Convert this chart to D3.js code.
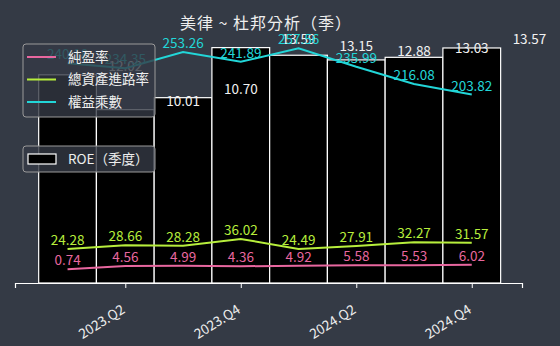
<!DOCTYPE html>
<html>
<head>
<meta charset="utf-8">
<script src="https://cdn.jsdelivr.net/npm/d3@7"></script>
<style>
  body { margin: 0; background: #343a45; }
  text { font-family: "Noto Sans CJK TC", "Noto Sans", sans-serif; }
</style>
</head>
<body>
<script>
// quarters and series
var quarters = ['2023.Q1', '2023.Q2', '2023.Q3', '2023.Q4', '2024.Q1', '2024.Q2', '2024.Q3', '2024.Q4'];
var roe = [12.02, 10.01, 10.70, 13.59, 13.15, 12.88, 13.03, 13.57];
var netMargin = [0.74, 4.56, 4.99, 4.36, 4.92, 5.58, 5.53, 6.02];
var assetTurnover = [24.28, 28.66, 28.28, 36.02, 24.49, 27.91, 32.27, 31.57];
var equityMultiplier = [240.18, 234.35, 253.26, 241.89, 257.56, 235.99, 216.08, 203.82];
var tickQuarters = ['2023.Q2', '2023.Q4', '2024.Q2', '2024.Q4'];

var width = 560, height = 346;
var plotTop = 31, plotBottom = 283;

var svg = d3.select('body').append('svg')
    .attr('width', width)
    .attr('height', height);

// x uses the quarter index
var x = d3.scaleLinear()
    .domain([-0.91, 7.87])
    .range([15, 522]);

// bars (ROE) on their own axis
var yBar = d3.scaleLinear()
    .domain([0, 14.55])
    .range([plotBottom, plotTop]);

// the three lines share the other axis
var yLine = d3.scaleLinear()
    .domain([-15.1, 277.6])
    .range([plotBottom, plotTop]);

// bars
svg.append('g').selectAll('rect')
    .data(roe)
    .enter().append('rect')
    .attr('x', function(d, i) { return x(i - 0.5) })
    .attr('y', function(d) { return yBar(d) })
    .attr('width', function(d, i) { return x(i + 0.5) - x(i - 0.5) })
    .attr('height', function(d) { return yBar(0) - yBar(d) })
    .attr('fill', '#000')
    .attr('stroke', '#fff')
    .attr('stroke-width', 1.2);

// bar labels sit one slot to the right, like in the original
svg.append('g').selectAll('text')
    .data(roe)
    .enter().append('text')
    .attr('x', function(d, i) { return x(i + 1) })
    .attr('y', function(d) { return yBar(d) - 4 })
    .attr('text-anchor', 'middle')
    .attr('font-size', 13.5)
    .attr('fill', '#f2f2f2')
    .text(function(d) { return d.toFixed(2) });

var series = [
    {name: '純盈率', values: netMargin, color: '#e8679f'},
    {name: '總資產進路率', values: assetTurnover, color: '#b7ee3c'},
    {name: '權益乘數', values: equityMultiplier, color: '#22d6d8'}
];

var line = d3.line()
    .x(function(d, i) { return x(i) })
    .y(function(d) { return yLine(d) });

series.forEach(function(s) {
    svg.append('path')
        .datum(s.values)
        .attr('d', line)
        .attr('fill', 'none')
        .attr('stroke', s.color)
        .attr('stroke-width', 2);

    svg.append('g').selectAll('text')
        .data(s.values)
        .enter().append('text')
        .attr('x', function(d, i) { return x(i) })
        .attr('y', function(d) { return yLine(d) - 4 })
        .attr('text-anchor', 'middle')
        .attr('font-size', 13.5)
        .attr('fill', s.color)
        .text(function(d) { return d.toFixed(2) });
});

// x axis
var xAxis = d3.axisBottom(x)
    .tickValues(tickQuarters.map(function(q) { return quarters.indexOf(q) }))
    .tickFormat(function(d) { return quarters[d] })
    .tickSizeOuter(0)
    .tickSize(5);

var gx = svg.append('g')
    .attr('transform', 'translate(0,' + plotBottom + ')')
    .call(xAxis);
gx.select('.domain').attr('stroke', '#fff').attr('stroke-width', 1.2);
gx.selectAll('.tick line').attr('stroke', '#fff');
gx.selectAll('.tick text')
    .attr('fill', '#eee')
    .attr('font-size', 13.5)
    .attr('text-anchor', 'end')
    .attr('y', 0)
    .attr('dy', '0.71em')
    .attr('transform', 'translate(-5,21) rotate(-32)');

// title
svg.append('text')
    .attr('x', 266)
    .attr('y', 29)
    .attr('text-anchor', 'middle')
    .attr('font-size', 16)
    .attr('fill', '#eee')
    .attr('letter-spacing', 1)
    .text('美律 ~ 杜邦分析（季）');

// legend for the lines
var leg = svg.append('g');
leg.append('rect')
    .attr('x', 23).attr('y', 44)
    .attr('width', 132).attr('height', 73)
    .attr('rx', 3)
    .attr('fill', 'rgba(52,58,69,0.8)')
    .attr('stroke', '#9a9a9a');
series.forEach(function(s, i) {
    var ly = 57 + i * 22.5;
    leg.append('line')
        .attr('x1', 27).attr('x2', 56)
        .attr('y1', ly).attr('y2', ly)
        .attr('stroke', s.color)
        .attr('stroke-width', 2);
    leg.append('text')
        .attr('x', 68).attr('y', ly)
        .attr('dy', '0.35em')
        .attr('font-size', 13.5)
        .attr('fill', '#eee')
        .text(s.name);
});

// legend for the bars
var leg2 = svg.append('g');
leg2.append('rect')
    .attr('x', 23).attr('y', 146)
    .attr('width', 132).attr('height', 26)
    .attr('rx', 3)
    .attr('fill', 'rgba(52,58,69,0.8)')
    .attr('stroke', '#9a9a9a');
leg2.append('rect')
    .attr('x', 28).attr('y', 154)
    .attr('width', 28).attr('height', 10)
    .attr('fill', '#000')
    .attr('stroke', '#fff')
    .attr('stroke-width', 1.2);
leg2.append('text')
    .attr('x', 68).attr('y', 159)
    .attr('dy', '0.35em')
    .attr('font-size', 13.5)
    .attr('fill', '#eee')
    .text('ROE（季度）');
</script>
</body>
</html>
